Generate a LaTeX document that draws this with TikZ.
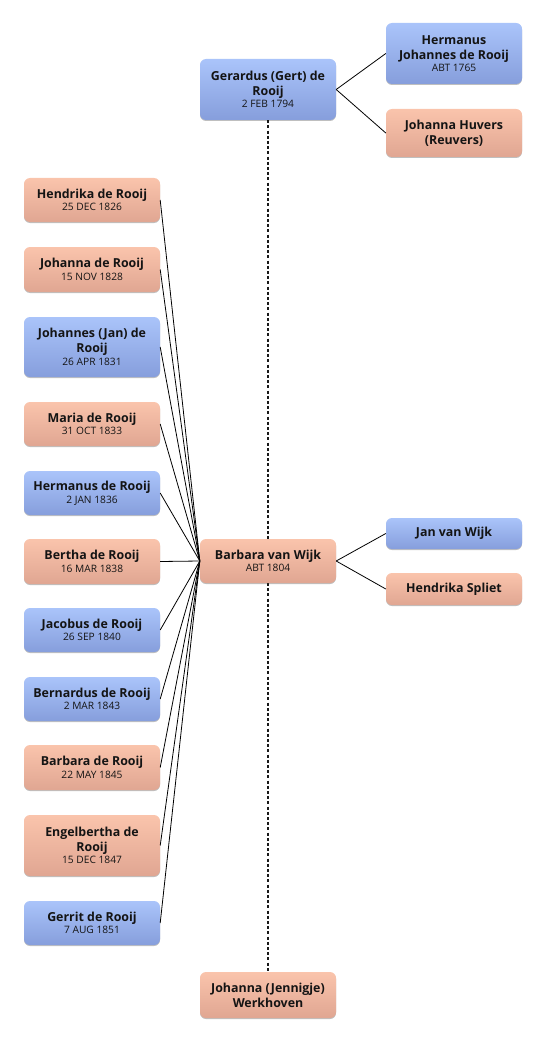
\documentclass[tikz,border=0pt]{standalone}
\usepackage{fontspec}
\setmainfont{Open Sans}
\usetikzlibrary{shadows}
\definecolor{btop}{RGB}{170,196,250}
\definecolor{bbot}{RGB}{134,158,220}
\definecolor{ptop}{RGB}{250,196,172}
\definecolor{pbot}{RGB}{224,166,146}
\newcommand{\nm}[1]{{\bfseries #1}}
\newcommand{\dt}[1]{{\fontsize{10.2}{12}\selectfont #1}}
\pgfdeclarelayer{bg}
\pgfsetlayers{bg,main}
\tikzset{
  person/.style={rectangle, rounded corners=6pt, minimum width=136pt, inner sep=0pt,
    align=center, text=black!92, draw=none, font=\fontsize{12.4}{15}\selectfont,
    drop shadow={shadow xshift=0pt, shadow yshift=-1pt, opacity=0.25, fill=black}},
  male/.style={person, top color=btop, bottom color=bbot},
  female/.style={person, top color=ptop, bottom color=pbot},
  link/.style={draw=black, line width=0.8pt},
  marriage/.style={draw=black!90, line width=2pt, dash pattern=on 3pt off 2.2pt}
}
\begin{document}
\begin{tikzpicture}[x=1pt,y=-1pt]
\useasboundingbox (0,0) rectangle (546,1043);
% ancestors
\node[male, minimum height=61pt] (ger) at (268,89.5) {\nm{Gerardus (Gert) de}\\\nm{Rooij}\\[-2.5pt]\dt{2 FEB 1794}};
\node[male, minimum height=61pt] (herm) at (454,53.5) {\nm{Hermanus}\\\nm{Johannes de Rooij}\\[-2.5pt]\dt{ABT 1765}};
\node[female, minimum height=48pt] (huv) at (454,133) {\nm{Johanna Huvers}\\\nm{(Reuvers)}};
\node[female, minimum height=44pt] (bar) at (268,561) {\nm{Barbara van Wijk}\\[-2.5pt]\dt{ABT 1804}};
\node[male, minimum height=31pt] (jan) at (454,533.5) {\nm{Jan van Wijk}};
\node[female, minimum height=32pt] (spl) at (454,589) {\nm{Hendrika Spliet}};
\node[female, minimum height=46pt] (werk) at (268,995) {\nm{Johanna (Jennigje)}\\\nm{Werkhoven}};
% children
\node[female, minimum height=44pt] (c1) at (92,200) {\nm{Hendrika de Rooij}\\[-2.5pt]\dt{25 DEC 1826}};
\node[female, minimum height=45pt] (c2) at (92,269.5) {\nm{Johanna de Rooij}\\[-2.5pt]\dt{15 NOV 1828}};
\node[male, minimum height=60pt] (c3) at (92,347) {\nm{Johannes (Jan) de}\\\nm{Rooij}\\[-2.5pt]\dt{26 APR 1831}};
\node[female, minimum height=44pt] (c4) at (92,424) {\nm{Maria de Rooij}\\[-2.5pt]\dt{31 OCT 1833}};
\node[male, minimum height=44pt] (c5) at (92,493) {\nm{Hermanus de Rooij}\\[-2.5pt]\dt{2 JAN 1836}};
\node[female, minimum height=45pt] (c6) at (92,561.5) {\nm{Bertha de Rooij}\\[-2.5pt]\dt{16 MAR 1838}};
\node[male, minimum height=44pt] (c7) at (92,630) {\nm{Jacobus de Rooij}\\[-2.5pt]\dt{26 SEP 1840}};
\node[male, minimum height=44pt] (c8) at (92,699) {\nm{Bernardus de Rooij}\\[-2.5pt]\dt{2 MAR 1843}};
\node[female, minimum height=45pt] (c9) at (92,767.5) {\nm{Barbara de Rooij}\\[-2.5pt]\dt{22 MAY 1845}};
\node[female, minimum height=61pt] (c10) at (92,845.5) {\nm{Engelbertha de}\\\nm{Rooij}\\[-2.5pt]\dt{15 DEC 1847}};
\node[male, minimum height=44pt] (c11) at (92,923) {\nm{Gerrit de Rooij}\\[-2.5pt]\dt{7 AUG 1851}};
\begin{pgfonlayer}{bg}
\draw[marriage] (ger.south) -- (werk.north);
\end{pgfonlayer}
\draw[link] (ger.east) -- (herm.west);
\draw[link] (ger.east) -- (huv.west);
\draw[link] (bar.east) -- (jan.west);
\draw[link] (bar.east) -- (spl.west);
\foreach \c in {c1,c2,c3,c4,c5,c6,c7,c8,c9,c10,c11}
  \draw[link] (\c.east) -- (bar.west);
\end{tikzpicture}
\end{document}
